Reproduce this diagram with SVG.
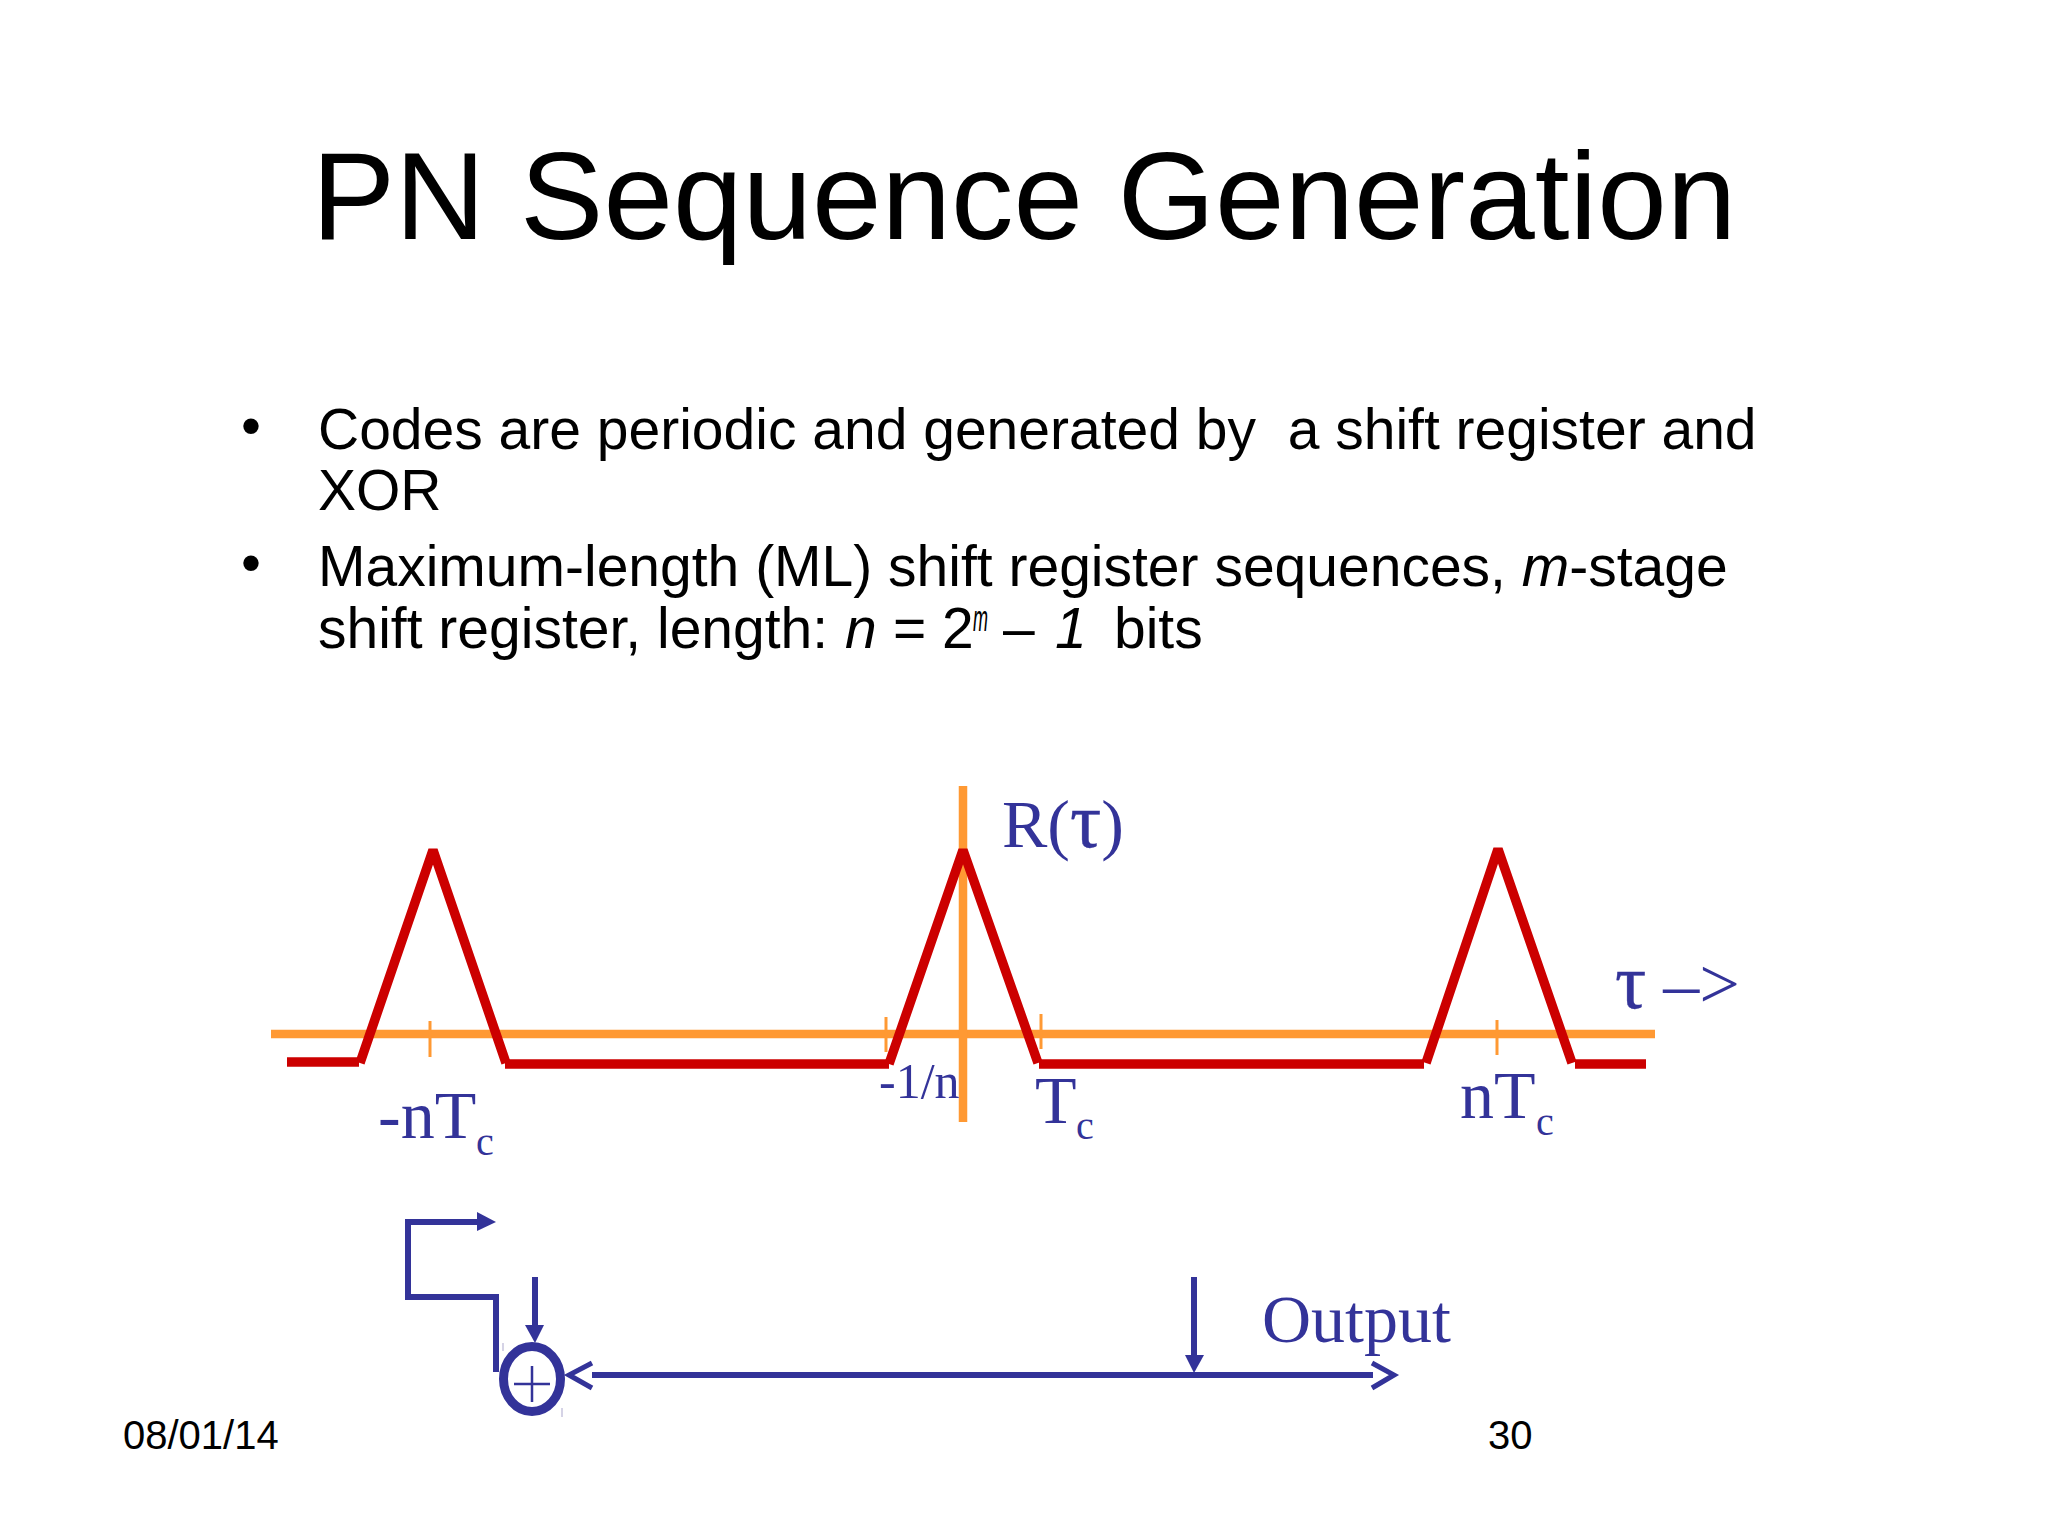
<svg xmlns="http://www.w3.org/2000/svg" width="2048" height="1536" viewBox="0 0 2048 1536">
<style>
.sans{font-family:"Liberation Sans",Arial,sans-serif;fill:#000}
.body{font-size:57px}
.foot{font-size:40px}
.serif{font-family:"Liberation Serif","Times New Roman",serif;fill:#333399;font-size:68px}
.tau{font-size:78px;stroke:#333399;stroke-width:.4}
.sub{font-size:40px}
.or{stroke:#ff9933;fill:none}
.red{stroke:#cc0000;stroke-width:9.5;fill:none;stroke-linejoin:bevel}
.bl{stroke:#333399;stroke-width:6;fill:none}
.op{stroke:#333399;stroke-width:5;fill:none}
.hd{fill:#333399;stroke:none}
</style>
<rect width="2048" height="1536" fill="#fff"/>
<g id="title"><text class="sans" x="1024" y="239" text-anchor="middle" font-size="125">PN Sequence Generation</text></g>
<g id="bullets">
<text class="sans body" x="241" y="445">•</text>
<text class="sans body" x="318" y="449" xml:space="preserve">Codes are periodic and generated by  a shift register and</text>
<text class="sans body" x="318" y="510">XOR</text>
<text class="sans body" x="241" y="582">•</text>
<text class="sans body" x="318" y="586">Maximum-length (ML) shift register sequences, <tspan font-style="italic">m</tspan>-stage</text>
<text class="sans body" x="318" y="648">shift register, length:</text>
<text class="sans body" x="845" y="648" font-style="italic">n</text>
<text class="sans body" x="893" y="648">= 2</text>
<text class="sans" x="973" y="631" font-size="36" font-style="italic" textLength="15" lengthAdjust="spacingAndGlyphs">m</text>
<text class="sans body" x="1003" y="648">–</text>
<text class="sans body" x="1055" y="648" font-style="italic">1</text>
<text class="sans body" x="1114" y="648">bits</text>
</g>
<g id="axes">
<line class="or" x1="271" y1="1034" x2="1655" y2="1034" stroke-width="8.5"/>
<line class="or" x1="963" y1="786" x2="963" y2="1122" stroke-width="8.5"/>
<line class="or" x1="430" y1="1021" x2="430" y2="1057" stroke-width="3"/>
<line class="or" x1="886" y1="1017" x2="886" y2="1052" stroke-width="3"/>
<line class="or" x1="1041" y1="1014" x2="1041" y2="1049" stroke-width="3"/>
<line class="or" x1="1497" y1="1020" x2="1497" y2="1055" stroke-width="3"/>
</g>
<g id="autocorrelation">
<line class="red" x1="287" y1="1062" x2="359" y2="1062"/>
<polyline class="red" points="360,1063 433,850 506,1063"/>
<line class="red" x1="505" y1="1064" x2="889" y2="1064"/>
<polyline class="red" points="889,1064 963,850 1038,1063"/>
<line class="red" x1="1039" y1="1064" x2="1424" y2="1064"/>
<polyline class="red" points="1426,1063 1498,849 1572,1063"/>
<line class="red" x1="1575" y1="1064" x2="1646" y2="1064"/>
</g>
<g id="labels">
<text class="serif" x="1002" y="847">R(<tspan class="tau">τ</tspan>)</text>
<text class="serif" x="1615" y="1008" xml:space="preserve"><tspan class="tau">τ</tspan> <tspan font-size="72">–&gt;</tspan></text>
<text class="serif" x="378" y="1138">-nT</text><text class="serif sub" x="476" y="1155">c</text>
<text class="serif" x="879" y="1098" style="font-size:50px">-1/n</text>
<text class="serif" x="1035" y="1123">T</text><text class="serif sub" x="1076" y="1139">c</text>
<text class="serif" x="1460" y="1118">nT</text><text class="serif sub" x="1536" y="1135">c</text>
<text class="serif" x="1262" y="1342">Output</text>
</g>
<g id="xor-node">
<ellipse cx="532" cy="1379" rx="28.5" ry="32.5" fill="none" stroke="#333399" stroke-width="9"/>
<path d="M514 1384H550M532 1366V1402" stroke="#333399" stroke-width="2.5" fill="none"/>
</g>
<g id="connectors">
<polyline class="bl" points="496,1372 496,1297 408,1297 408,1222 480,1222"/>
<polygon class="hd" points="477,1212 496,1222 477,1231"/>
<line class="bl" x1="535" y1="1277" x2="535" y2="1327"/>
<polygon class="hd" points="525,1325 544,1325 535,1343"/>
<polyline class="op" points="592,1363 569,1375 592,1388"/>
<line class="bl" x1="592" y1="1375" x2="1373" y2="1375"/>
<polyline class="op" points="1372,1363 1394,1375 1372,1388"/>
<line class="bl" x1="1194" y1="1277" x2="1194" y2="1357"/>
<polygon class="hd" points="1185,1355 1204,1355 1194,1373"/>
<path d="M503 1343V1351M562 1408V1417" stroke="#b9b6d6" stroke-width="1.2" fill="none"/>
</g>
<g id="footer">
<text class="sans foot" x="123" y="1449">08/01/14</text>
<text class="sans foot" x="1488" y="1449">30</text>
</g>
</svg>
